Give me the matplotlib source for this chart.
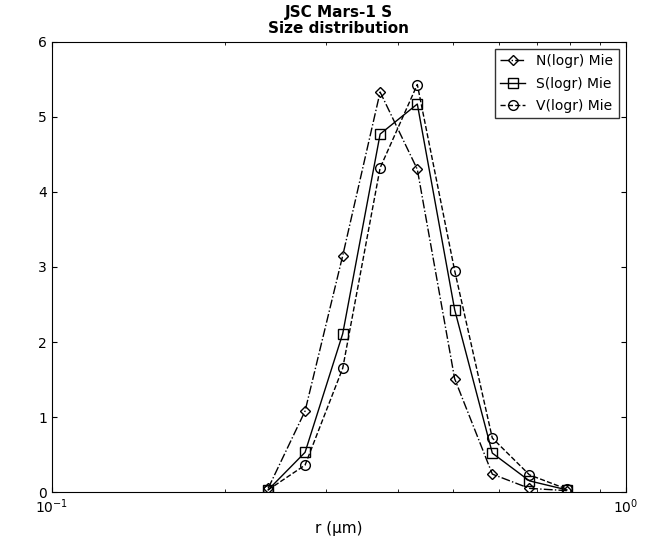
import matplotlib
matplotlib.use("Agg")
import matplotlib.pyplot as plt
from matplotlib.ticker import NullFormatter

r = [0.238, 0.276, 0.321, 0.373, 0.433, 0.503, 0.585, 0.679, 0.789]
n_logr = [0.05, 1.08, 3.15, 5.33, 4.30, 1.51, 0.24, 0.05, 0.02]
s_logr = [0.03, 0.53, 2.11, 4.77, 5.17, 2.43, 0.52, 0.15, 0.03]
v_logr = [0.03, 0.36, 1.65, 4.32, 5.43, 2.95, 0.72, 0.23, 0.04]

fig, ax = plt.subplots(figsize=(6.5, 5.42), dpi=100)
fig.subplots_adjust(left=0.08, right=0.963, top=0.923, bottom=0.092)

ax.plot(r, n_logr, "k-.", marker="D", markersize=5, mfc="none", lw=1, label="N(logr) Mie")
ax.plot(r, s_logr, "k-", marker="s", markersize=7, mfc="none", lw=1, label="S(logr) Mie")
ax.plot(r, v_logr, "k--", marker="o", markersize=7, mfc="none", lw=1, label="V(logr) Mie")

ax.set_xscale("log")
ax.set_xlim(0.1, 1)
ax.set_ylim(0, 6)
ax.xaxis.set_minor_formatter(NullFormatter())
ax.set_xlabel("r (\u03bcm)", fontsize=11)
ax.set_title("JSC Mars-1 S\nSize distribution", fontsize=11, fontweight="bold", linespacing=1.1)
ax.tick_params(direction="in", top=True, right=True, which="both", labelsize=10)
ax.legend(loc="upper right", fontsize=10, fancybox=False, edgecolor="black",
          handlelength=1.8, borderpad=0.4, labelspacing=0.6)

fig.savefig("out.png")
